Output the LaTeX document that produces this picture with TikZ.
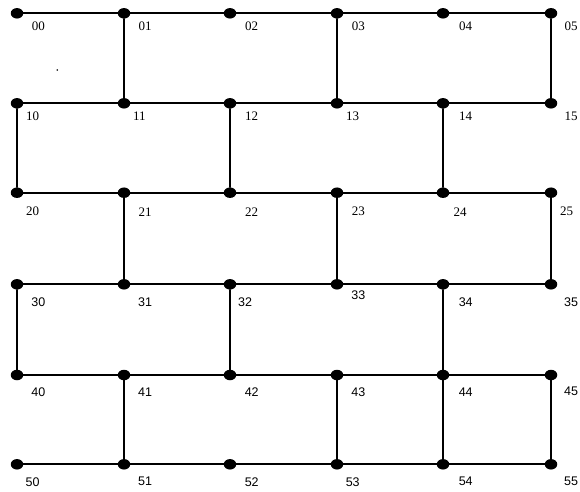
\documentclass[tikz,border=0pt]{standalone}
\usepackage{fontspec}
\setmainfont{Liberation Serif}
\setsansfont{Liberation Sans}
\usetikzlibrary{shapes.geometric}
\begin{document}
\begin{tikzpicture}[x=1pt,y=-1pt,line join=round,line cap=round]
	\tikzset{
		dot/.style={ellipse,fill=black,inner sep=0pt,minimum width=12.5pt,minimum height=10.5pt},
		edge/.style={line width=1.8pt},
		lbls/.style={font=\fontsize{13}{14}\selectfont,inner sep=0pt},
		lblt/.style={font=\sffamily\fontsize{12.5}{13}\selectfont,inner sep=0pt}
	}
	\useasboundingbox (0,0) rectangle (580,491);
	
	% grid of vertices
	\foreach \x [count=\j from 0] in {17,124,230,337,443,551}
	\foreach \y [count=\i from 0] in {13.3,103.3,192.7,284.3,375,464.3}
	\node[dot] (n\i\j) at (\x,\y) {};
	
	% rows
	\foreach \i in {0,...,5}
	\draw[edge] (n\i0) -- (n\i1) -- (n\i2) -- (n\i3) -- (n\i4) -- (n\i5);
	
	% columns
	\foreach \a/\b in {01/11,03/13,05/15,10/20,12/22,14/24,21/31,23/33,25/35,
		30/40,32/42,34/44,41/51,43/53,44/54,45/55}
	\draw[edge] (n\a) -- (n\b);
	
	% labels
	\foreach \name/\lx/\ly in {00/38.3/26,01/145/26,02/251.7/26,03/358.3/26,04/465.7/26,05/571/26,
		10/32.7/116,11/139.3/116,12/251.7/116,13/352.7/116,14/465.7/116,15/571/116,
		20/32.7/211.7,21/145/211.7,22/251.7/211.7,23/358.3/211.7,24/460/211.7,25/566.7/211.7}
	\node[lbls] (l\name) at (\lx,\ly) {\name};
	\foreach \name/\lx/\ly in {30/38.3/301.7,31/145/301.7,32/245/301.7,33/358.3/295,34/465.7/301.7,35/571/301.7,
		40/38.3/391.7,41/145/391.7,42/251.7/391.7,43/358.3/391.7,44/465.7/391.7,45/571/391.7,
		50/32.7/481.7,51/145/481.7,52/251.7/481.7,53/352.7/481.7,54/465.7/481.7,55/571/481.7}
	\node[lblt] (l\name) at (\lx,\ly) {\name};
	
	\fill (57.3,70) circle (0.9);
\end{tikzpicture}
\end{document}
